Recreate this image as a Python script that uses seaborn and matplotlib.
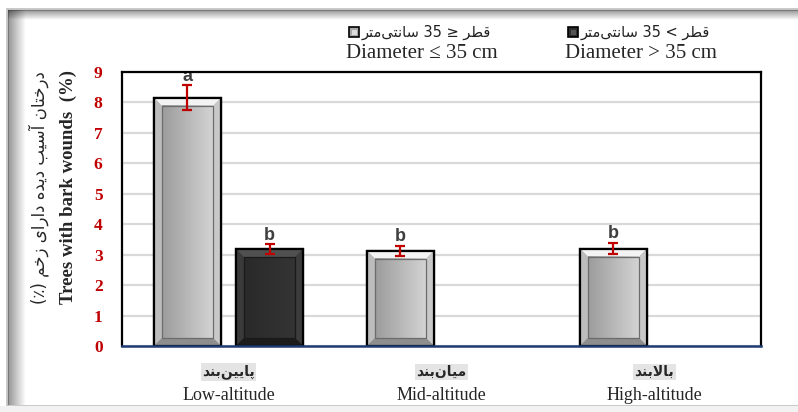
import re

import matplotlib.pyplot as plt
import numpy as np
import pandas as pd
import seaborn as sns
from matplotlib.colors import LinearSegmentedColormap
from matplotlib.patches import Polygon, Rectangle
from matplotlib.transforms import blended_transform_factory

# ---- data ----
sites = ['Low-altitude', 'Mid-altitude', 'High-altitude']
sites_fa = ['پایین\u200cبند', 'میان\u200cبند', 'بالابند']
sizes = ['Diameter \u2264 35 cm', 'Diameter > 35 cm']
# comparison signs written as they appear on screen (right-to-left line)
sizes_fa = ['قطر \u2265 35 سانتی\u200cمتر', 'قطر < 35 سانتی\u200cمتر']
small_mean = [8.15, 3.13, 3.2]
small_err = [0.41, 0.16, 0.18]
small_letters = ['a', 'b', 'b']
large_mean = [3.18, np.nan, np.nan]
large_err = [0.16, np.nan, np.nan]
large_letters = ['b', '', '']
y_ticks = list(range(0, 10))
ylabel_en = 'Trees with bark wounds  (%)'
ylabel_fa = 'درختان آسیب دیده دارای زخم (٪)'

# ---- minimal persian shaping (matplotlib has no complex text layout) ----
FORMS = {
    'ا': ('\uFE8D', '\uFE8E', None, None),
    'آ': ('\uFE81', '\uFE82', None, None),
    'ب': ('\uFE8F', '\uFE90', '\uFE91', '\uFE92'),
    'پ': ('\uFB56', '\uFB57', '\uFB58', '\uFB59'),
    'ت': ('\uFE95', '\uFE96', '\uFE97', '\uFE98'),
    'خ': ('\uFEA5', '\uFEA6', '\uFEA7', '\uFEA8'),
    'د': ('\uFEA9', '\uFEAA', None, None),
    'ر': ('\uFEAD', '\uFEAE', None, None),
    'ز': ('\uFEAF', '\uFEB0', None, None),
    'س': ('\uFEB1', '\uFEB2', '\uFEB3', '\uFEB4'),
    'ط': ('\uFEC1', '\uFEC2', '\uFEC3', '\uFEC4'),
    'ق': ('\uFED5', '\uFED6', '\uFED7', '\uFED8'),
    'ل': ('\uFEDD', '\uFEDE', '\uFEDF', '\uFEE0'),
    'م': ('\uFEE1', '\uFEE2', '\uFEE3', '\uFEE4'),
    'ن': ('\uFEE5', '\uFEE6', '\uFEE7', '\uFEE8'),
    'ه': ('\uFEE9', '\uFEEA', '\uFEEB', '\uFEEC'),
    'ی': ('\uFBFC', '\uFBFD', '\uFBFE', '\uFBFF'),
}
LIGS = {'لا': ('\uFEFB', '\uFEFC'), 'لآ': ('\uFEF5', '\uFEF6')}
MIRROR = {'(': ')', ')': '('}


def fa(text):
    toks, i = [], 0
    while i < len(text):
        if text[i] == 'ل' and i + 1 < len(text) and text[i + 1] in 'اآ':
            toks.append(text[i:i + 2])
            i += 2
        else:
            toks.append(text[i])
            i += 1

    def left(t):
        return t in FORMS and FORMS[t][2] is not None

    def right(t):
        return t in FORMS or t in LIGS

    out = []
    for k, t in enumerate(toks):
        p = k > 0 and left(toks[k - 1]) and right(t)
        n = k + 1 < len(toks) and left(t) and right(toks[k + 1])
        if t in LIGS:
            out.append(LIGS[t][1 if p else 0])
        elif t in FORMS:
            f = FORMS[t]
            out.append(f[3] if p and n else f[1] if p else f[2] if n else f[0])
        elif t == '\u200c':
            continue
        else:
            out.append(MIRROR.get(t, t))
    s = ''.join(out)[::-1]
    return re.sub(r'[0-9A-Za-z%]+', lambda m: m.group()[::-1], s)


# ---- style ----
sns.set_style('white')
plt.rcParams['font.family'] = ['Liberation Serif', 'DejaVu Sans']
FA_FONT = ['DejaVu Sans']
RED = '#c00000'

df = pd.DataFrame({
    'site': sites * 2,
    'size': [sizes[0]] * 3 + [sizes[1]] * 3,
    'value': small_mean + large_mean,
    'err': small_err + large_err,
    'letter': small_letters + large_letters,
}).dropna(subset=['value'])

fig = plt.figure(figsize=(7.98, 4.12), dpi=100)

# background frame with inner shadow
bg = fig.add_axes([0, 0, 1, 1], zorder=-5)
bg.set_xlim(0, 798)
bg.set_ylim(412, 0)
bg.axis('off')
bg.add_patch(Rectangle((7, 9), 795, 397, fc='white', ec='#c4c4c4', lw=2))
ramp = np.zeros((1, 64, 4))
ramp[..., 3] = np.linspace(0.42, 0, 64)
bg.imshow(ramp, extent=[8, 26, 405, 10], aspect='auto', zorder=2)
bg.imshow(np.transpose(ramp, (1, 0, 2)), extent=[8, 798, 20, 10], aspect='auto', zorder=2)
bg.add_patch(Rectangle((0, 406), 798, 6, fc='#f2f2f2', ec='none', zorder=3))
bg.set_xlim(0, 798)
bg.set_ylim(412, 0)

ax = fig.add_axes([122 / 798, 66 / 412, 639 / 798, 274 / 412])
sns.barplot(data=df, x='site', y='value', hue='size', order=sites, hue_order=sizes,
            palette=['#b4b4b4', '#2c2c2c'], width=0.77, gap=0.18, errorbar=None,
            edgecolor='black', linewidth=1.6, legend=False, ax=ax, zorder=3)
ax.set_xlim(-0.5, 2.5)
ax.set_ylim(0, 9)

# bevel look
px_x = 639 / 3.0
px_y = 274 / 9.0
bx, by = 8 / px_x, 8 / px_y
styles = [
    dict(top='#f3f3f3', left='#bcbcbc', right='#c8c8c8', bottom='#8e8e8e',
         grad=['#9c9c9c', '#d4d4d4'], inner='#6c6c6c'),
    dict(top='#505050', left='#3a3a3a', right='#3c3c3c', bottom='#1c1c1c',
         grad=['#2a2a2a', '#343434'], inner='#1a1a1a'),
]
bar_conts = list(ax.containers)
for hi, cont in enumerate(bar_conts):
    st = styles[hi]
    sub = df[df['size'] == sizes[hi]].set_index('site')
    for bar in cont:
        x0, w, h = bar.get_x(), bar.get_width(), bar.get_height()
        x1 = x0 + w
        for pts, c in [([(x0, h), (x1, h), (x1 - bx, h - by), (x0 + bx, h - by)], st['top']),
                       ([(x0, 0), (x0, h), (x0 + bx, h - by), (x0 + bx, by)], st['left']),
                       ([(x1, 0), (x1, h), (x1 - bx, h - by), (x1 - bx, by)], st['right']),
                       ([(x0, 0), (x1, 0), (x1 - bx, by), (x0 + bx, by)], st['bottom'])]:
            ax.add_patch(Polygon(pts, closed=True, fc=c, ec='none', zorder=3.2))
        cmap = LinearSegmentedColormap.from_list('g', st['grad'])
        ax.imshow(np.linspace(0, 1, 50)[None, :], cmap=cmap, aspect='auto',
                  extent=[x0 + bx, x1 - bx, by, h - by], zorder=3.3)
        ax.add_patch(Rectangle((x0 + bx, by), w - 2 * bx, h - 2 * by, fc='none',
                               ec=st['inner'], lw=0.9, zorder=3.4))
        ax.add_patch(Rectangle((x0, 0), w, h, fc='none', ec='black', lw=1.6, zorder=3.5))
        xc = x0 + w / 2
        row = sub.loc[sites[int(round(xc))]]
        ax.errorbar(xc, h, yerr=row['err'], fmt='none', ecolor=RED, elinewidth=1.6,
                    capsize=3.8, capthick=1.6, zorder=6)
        ax.annotate(row['letter'], (xc, h + row['err']), xytext=(0, 0.5),
                    textcoords='offset points', ha='center', va='bottom', fontsize=13,
                    fontweight='bold', color='#404040', family='Liberation Sans', zorder=7)

ax.set_xlim(-0.5, 2.5)
ax.set_ylim(0, 9)
ax.set_yticks(y_ticks)
ax.set_yticklabels([str(t) for t in y_ticks], color=RED, fontsize=12.5, fontweight='bold')
ax.tick_params(axis='y', length=0, pad=14)
ax.set_xticks(range(len(sites)))
ax.set_xticklabels([])
ax.tick_params(axis='x', length=0)
ax.set_xlabel('')
ax.set_ylabel('')
ax.yaxis.grid(True, color='#d9d9d9', lw=1.6)
ax.set_axisbelow(True)
for side in ['top', 'left', 'right']:
    ax.spines[side].set_color('black')
    ax.spines[side].set_linewidth(1.6)
ax.spines['bottom'].set_color('#1f3b73')
ax.spines['bottom'].set_linewidth(1.8)
for sp in ax.spines.values():
    sp.set_zorder(8)

# category labels
tr = blended_transform_factory(ax.transData, fig.transFigure)
for i, (en, f) in enumerate(zip(sites, sites_fa)):
    ax.text(i, 1 - 372 / 412, fa(f), transform=tr, ha='center', va='center',
            fontsize=10, fontweight='bold', family=FA_FONT,
            bbox=dict(fc='#e4e4e4', ec='none', pad=1))
    ax.text(i, 1 - 395 / 412, en, transform=tr, ha='center', va='center', fontsize=13)

# y label
fig.text(39 / 798, 1 - 188 / 412, fa(ylabel_fa), rotation=90, ha='center', va='center',
         fontsize=12, family=FA_FONT)
fig.text(68 / 798, 1 - 187 / 412, ylabel_en, rotation=90, ha='center', va='center',
         fontsize=13.5, fontweight='bold')

# legend
leg_x = [349, 568]
leg_base = ['#a8a8a8', '#2e2e2e']
leg_shine = ['#dcdcdc', '#555555']
for k in range(2):
    bg.add_patch(Rectangle((leg_x[k], 27), 10, 10, fc=leg_base[k], ec='black', lw=1.2, zorder=4))
    bg.add_patch(Rectangle((leg_x[k] + 2.5, 29.5), 5, 5, fc=leg_shine[k], ec='none', zorder=5))
    bg.text(leg_x[k] + 13, 32, fa(sizes_fa[k]), ha='left', va='center', fontsize=10.5,
            family=FA_FONT, color='#222222')
    bg.text(leg_x[k] + 73, 53, sizes[k], ha='center', va='center', fontsize=15)

fig.savefig('out.png', dpi=100)
